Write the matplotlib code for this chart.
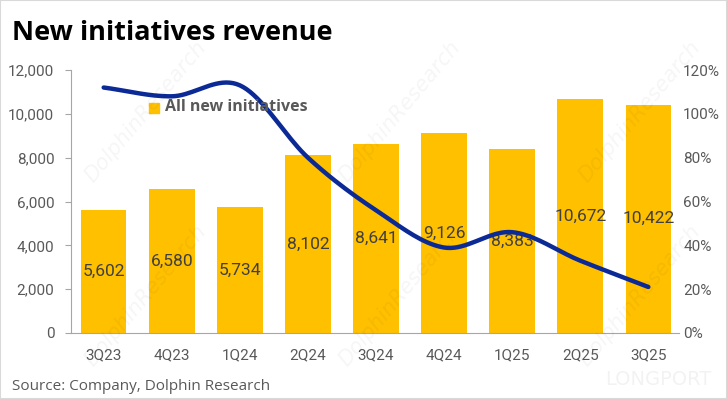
import matplotlib.pyplot as plt
import numpy as np
from matplotlib.patches import Rectangle

# data
quarters = ["3Q23", "4Q23", "1Q24", "2Q24", "3Q24", "4Q24", "1Q25", "2Q25", "3Q25"]
revenue = [5602, 6580, 5734, 8102, 8641, 9126, 8383, 10672, 10422]
growth_pct = [112, 108, 113, 80, 56, 39, 46, 33, 21]
left_ticks = [0, 2000, 4000, 6000, 8000, 10000, 12000]
right_ticks = [0, 20, 40, 60, 80, 100, 120]

BAR = "#FFC000"
LINE = "#0B2A96"
GREY = "#595959"
FONT = "Roboto"


def smooth(xs, ys, n=20):
    """Catmull-Rom curve through the points, like Excel's smoothed line."""
    xs = np.asarray(xs, float)
    ys = np.asarray(ys, float)
    px = np.concatenate([[2 * xs[0] - xs[1]], xs, [2 * xs[-1] - xs[-2]]])
    py = np.concatenate([[2 * ys[0] - ys[1]], ys, [2 * ys[-1] - ys[-2]]])
    out_x, out_y = [], []
    t = np.linspace(0, 1, n, endpoint=False)
    for i in range(1, len(px) - 2):
        for p, out in ((px, out_x), (py, out_y)):
            p0, p1, p2, p3 = p[i - 1], p[i], p[i + 1], p[i + 2]
            out.extend(0.5 * (2 * p1 + (-p0 + p2) * t
                              + (2 * p0 - 5 * p1 + 4 * p2 - p3) * t ** 2
                              + (-p0 + 3 * p1 - 3 * p2 + p3) * t ** 3))
    out_x.append(xs[-1])
    out_y.append(ys[-1])
    return np.array(out_x), np.array(out_y)


fig = plt.figure(figsize=(7.27, 3.99), dpi=100)
fig.patches.append(Rectangle((0, 0), 1, 1, transform=fig.transFigure,
                             fill=False, edgecolor="#D9D9D9", lw=1.5))

ax = fig.add_axes([71 / 727, 1 - 333 / 399, (679 - 71) / 727, (333 - 70) / 399])
x = np.arange(len(quarters))
ax.bar(x, revenue, width=0.67, color=BAR, zorder=2)
for xi, v in zip(x, revenue):
    ax.text(xi, v / 2, f"{v:,}", ha="center", va="center", fontsize=12.5,
            color="#404040", family=FONT, zorder=4)

ax.set_xlim(-0.48, 8.45)
ax.set_ylim(0, 12000)
ax.set_yticks(left_ticks)
ax.set_yticklabels([f"{t:,}" for t in left_ticks])
ax.set_xticks(x)
ax.set_xticklabels(quarters)
ax.tick_params(axis="y", length=4, color="#A6A6A6", labelsize=11, labelcolor=GREY, pad=8)
ax.tick_params(axis="x", length=0, labelsize=11, labelcolor=GREY, pad=11)
for s in ("top", "right"):
    ax.spines[s].set_visible(False)
for s in ("left", "bottom"):
    ax.spines[s].set_color("#A6A6A6")

ax2 = ax.twinx()
sx, sy = smooth(x, growth_pct)
ax2.plot(sx, sy, color=LINE, lw=3.2, solid_capstyle="round", zorder=5)
ax2.set_ylim(0, 120)
ax2.set_yticks(right_ticks)
ax2.set_yticklabels([f"{t}%" for t in right_ticks])
ax2.tick_params(axis="y", length=0, labelsize=11, labelcolor=GREY, pad=3)
for s in ax2.spines.values():
    s.set_visible(False)

for a in (ax, ax2):
    for lab in a.get_xticklabels() + a.get_yticklabels():
        lab.set_family(FONT)

# legend entry
fig.patches.append(Rectangle((149 / 727, 1 - 113 / 399), 10 / 727, 10 / 399,
                             transform=fig.transFigure, color=BAR))
fig.text(165 / 727, 1 - 107 / 399, "All new initiatives", fontsize=11.5,
         fontweight="bold", color=GREY, va="center", family="Open Sans")

# watermarks
for wx, wy in [(0.20, 0.72), (0.55, 0.72), (0.88, 0.72), (0.20, 0.26), (0.55, 0.26), (0.88, 0.26)]:
    fig.text(wx, wy, "DolphinResearch", fontsize=15, color="#000000", alpha=0.04,
             rotation=50, ha="center", va="center", style="italic")
fig.text(0.905, 0.05, "LONGPORT", fontsize=14, color="#000000", alpha=0.05,
         ha="center", va="center")

fig.text(12 / 727, 1 - 33 / 399, "New initiatives revenue", fontsize=19.5,
         fontweight="bold", color="black", va="center", family="Open Sans")
fig.text(12 / 727, 1 - 386 / 399, "Source: Company, Dolphin Research", fontsize=11,
         color=GREY, va="center", family="Open Sans")

fig.savefig("out.png", dpi=100)
